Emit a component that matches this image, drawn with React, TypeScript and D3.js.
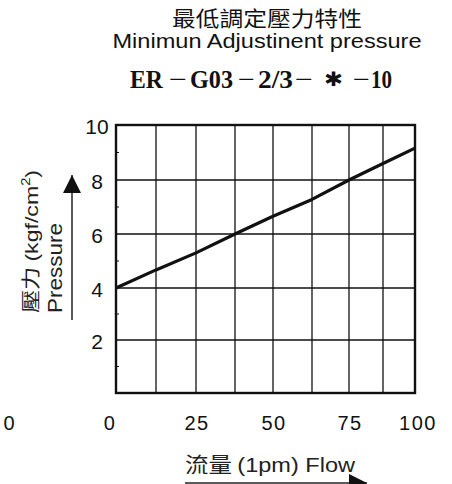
import * as d3 from "d3";
import React, { useRef, useEffect } from "react";

// values
const flow = [0, 12.5, 25, 37.5, 50, 62.5, 75, 87.5, 100];
const pressure = [4, 4.67, 5.3, 6.0, 6.66, 7.28, 8.0, 8.6, 9.16];
const xTicks = [0, 25, 50, 75, 100];
const yTicks = [2, 4, 6, 8, 10];
const xGrid = [0, 12.5, 25, 37.5, 50, 62.5, 75, 87.5, 100];
const yGrid = [0, 2, 4, 6, 8, 10];
const yMinor = [1, 3, 5, 7, 9];
const modelCode = ["ER", "−", "G03", "−", "2/3", "−", "✱", "−", "10"];

const W = 452;
const H = 484;
const SANS = "'Liberation Sans', Arial, sans-serif";
const SERIF = "'Liberation Serif', 'Times New Roman', serif";
const CJK = "'Noto Sans CJK TC', 'Noto Sans CJK SC', sans-serif";

// the scanned grid is not evenly spaced, so the scales are piecewise
const xPx = [116, 156, 196, 235, 273, 312, 349, 383, 415];
const yPx = [393, 340, 288, 234, 180, 125];
// where each part of the model code sits (left edge, width)
const codeLayout = [
  [130, 33],
  [169, 18],
  [190, 43],
  [238, 17],
  [258, 35],
  [295, 18],
  [324, 19],
  [353, 17],
  [371, 21],
];

const App = () => {
  const svgRef = useRef<SVGSVGElement>(null);

  useEffect(() => {
    if (!svgRef.current) return;
    const svg = d3.select(svgRef.current);
    svg.selectAll("*").remove();

    const x = d3.scaleLinear().domain(xGrid).range(xPx);
    const y = d3.scaleLinear().domain(yGrid).range(yPx);

    // arrow marker
    const defs = svg.append("defs");
    defs
      .append("marker")
      .attr("id", "head")
      .attr("viewBox", "0 0 10 10")
      .attr("refX", 10)
      .attr("refY", 5)
      .attr("markerUnits", "userSpaceOnUse")
      .attr("markerWidth", 26)
      .attr("markerHeight", 18)
      .attr("orient", "auto")
      .append("path")
      .attr("d", "M0,0 L10,5 L0,10 Z")
      .attr("fill", "#111");

    // titles
    svg
      .append("text")
      .attr("x", 267)
      .attr("y", 26)
      .attr("text-anchor", "middle")
      .attr("font-family", CJK)
      .attr("font-size", 21)
      .attr("textLength", 190)
      .attr("lengthAdjust", "spacingAndGlyphs")
      .attr("fill", "#111")
      .text("最低調定壓力特性");
    svg
      .append("text")
      .attr("x", 267)
      .attr("y", 48)
      .attr("text-anchor", "middle")
      .attr("font-family", SANS)
      .attr("font-size", 21)
      .attr("textLength", 309)
      .attr("lengthAdjust", "spacingAndGlyphs")
      .attr("fill", "#111")
      .text("Minimun Adjustinent pressure");
    svg
      .selectAll(".code")
      .data(modelCode)
      .enter()
      .append("text")
      .attr("x", (d, i) => codeLayout[i][0])
      .attr("y", (d) => (d === "✱" ? 86 : 88))
      .attr("font-family", (d) => (d === "✱" ? "'DejaVu Sans', sans-serif" : SERIF))
      .attr("font-weight", (d) => (d === "−" ? "normal" : "bold"))
      .attr("font-size", (d) => (d === "✱" ? 20 : 26))
      .attr("textLength", (d, i) => codeLayout[i][1])
      .attr("lengthAdjust", "spacingAndGlyphs")
      .attr("fill", "#111")
      .text((d) => d);

    // grid
    const g = svg.append("g");
    g.selectAll(".vg")
      .data(xGrid)
      .enter()
      .append("line")
      .attr("x1", (d) => x(d))
      .attr("x2", (d) => x(d))
      .attr("y1", y(0))
      .attr("y2", y(10))
      .attr("stroke", "#111")
      .attr("stroke-width", 1.3);
    g.selectAll(".hg")
      .data(yGrid)
      .enter()
      .append("line")
      .attr("x1", x(0))
      .attr("x2", x(100))
      .attr("y1", (d) => y(d))
      .attr("y2", (d) => y(d))
      .attr("stroke", "#111")
      .attr("stroke-width", 1.3);
    g.selectAll(".ym")
      .data(yMinor)
      .enter()
      .append("line")
      .attr("x1", x(0))
      .attr("x2", x(0) + 3)
      .attr("y1", (d) => y(d))
      .attr("y2", (d) => y(d))
      .attr("stroke", "#111")
      .attr("stroke-width", 1);
    g.append("rect")
      .attr("x", x(0))
      .attr("y", y(10))
      .attr("width", x(100) - x(0))
      .attr("height", y(0) - y(10))
      .attr("fill", "none")
      .attr("stroke", "#111")
      .attr("stroke-width", 2.4);

    // curve
    const line = d3
      .line<number>()
      .x((d, i) => x(flow[i]))
      .y((d) => y(d));
    svg
      .append("path")
      .attr("d", line(pressure))
      .attr("fill", "none")
      .attr("stroke", "#111")
      .attr("stroke-width", 3.2)
      .attr("stroke-linejoin", "round");

    // tick labels
    svg
      .selectAll(".yt")
      .data(yTicks)
      .enter()
      .append("text")
      .attr("x", 97)
      .attr("y", (d) => y(d) + 9)
      .attr("text-anchor", "middle")
      .attr("font-family", SANS)
      .attr("font-size", 21)
      .attr("fill", "#111")
      .text((d) => d);
    svg
      .selectAll(".xt")
      .data(xTicks)
      .enter()
      .append("text")
      .attr("x", (d) => x(d) + (d === 0 ? -6 : d === 100 ? 3 : 1))
      .attr("y", 430)
      .attr("text-anchor", "middle")
      .attr("font-family", SANS)
      .attr("font-size", 20)
      .attr("letter-spacing", 1.5)
      .attr("fill", "#111")
      .text((d) => d);
    svg
      .append("text")
      .attr("x", 9)
      .attr("y", 430)
      .attr("text-anchor", "middle")
      .attr("font-family", SANS)
      .attr("font-size", 20)
      .attr("fill", "#111")
      .text("0");

    // y axis title
    const yt = svg
      .append("text")
      .attr("transform", "translate(38,313) rotate(-90)")
      .attr("font-family", CJK)
      .attr("font-size", 19)
      .attr("textLength", 143)
      .attr("lengthAdjust", "spacingAndGlyphs")
      .attr("fill", "#222");
    yt.append("tspan").text("壓力 ");
    yt.append("tspan").attr("font-family", SANS).text("(kgf/cm");
    yt.append("tspan")
      .attr("font-family", SANS)
      .attr("font-size", 12)
      .attr("dy", -8)
      .text("2");
    yt.append("tspan").attr("font-family", SANS).attr("dy", 8).text(")");
    svg
      .append("text")
      .attr("transform", "translate(62,313) rotate(-90)")
      .attr("font-family", SANS)
      .attr("font-size", 20)
      .attr("textLength", 90)
      .attr("lengthAdjust", "spacingAndGlyphs")
      .attr("fill", "#222")
      .text("Pressure");
    svg
      .append("line")
      .attr("x1", 72)
      .attr("x2", 72)
      .attr("y1", 320)
      .attr("y2", 175)
      .attr("stroke", "#222")
      .attr("stroke-width", 1.5)
      .attr("marker-end", "url(#head)");

    // x axis title
    const xt = svg
      .append("text")
      .attr("x", 185)
      .attr("y", 472)
      .attr("font-family", SANS)
      .attr("font-size", 21)
      .attr("textLength", 170)
      .attr("lengthAdjust", "spacingAndGlyphs")
      .attr("fill", "#222");
    xt.append("tspan").attr("font-family", CJK).text("流量 ");
    xt.append("tspan").text("(1pm) Flow");
    svg
      .append("line")
      .attr("x1", 185)
      .attr("x2", 367)
      .attr("y1", 483)
      .attr("y2", 483)
      .attr("stroke", "#222")
      .attr("stroke-width", 1.5)
      .attr("marker-end", "url(#head)");
  }, []);

  return (
    <div style={{ position: "absolute", left: 0, top: 0 }}>
      <svg ref={svgRef} width={W} height={H} style={{ display: "block", background: "#fff" }}></svg>
    </div>
  );
};

export default App;
